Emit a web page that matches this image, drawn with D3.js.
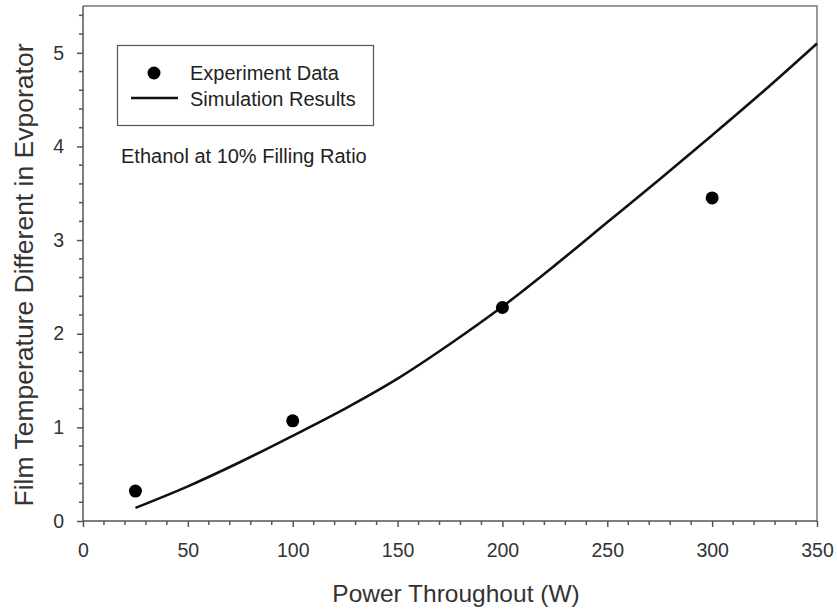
<!DOCTYPE html>
<html>
<head>
<meta charset="utf-8">
<script src="https://cdn.jsdelivr.net/npm/d3@7"></script>
<style>
  body { margin: 0; background: #fff; }
  text { font-family: "Liberation Sans", Arial, Helvetica, sans-serif; }
</style>
</head>
<body>
<svg id="chart" width="837" height="613"></svg>
<script>
// measured points
const expPower = [25, 100, 200, 300]
const expDelta = [0.32, 1.07, 2.28, 3.45]

// simulation curve
const simPower = [25, 50, 75, 100, 125, 150, 175, 200, 225, 250, 275, 300, 325, 350]
const simDelta = [0.14, 0.37, 0.63, 0.91, 1.20, 1.52, 1.89, 2.29, 2.73, 3.19, 3.65, 4.12, 4.60, 5.10]

const xTicks = [0, 50, 100, 150, 200, 250, 300, 350]
const yTicks = [0, 1, 2, 3, 4, 5]

const margin = { top: 6, right: 20, bottom: 92, left: 83 }
const width = 837, height = 613
const axisColor = "#555"

const svg = d3.select("#chart")

const x = d3.scaleLinear().domain([0, 350]).range([margin.left, width - margin.right])
const y = d3.scaleLinear().domain([0, 5.5]).range([height - margin.bottom, margin.top])

// frame (top and right)
svg.append("path")
	.attr("d", `M${x(0)},${y(5.5)} H${x(350)} V${y(0)}`)
	.style("fill", "none")
	.style("stroke", "#777")
	.style("stroke-width", 1.5)

// minor ticks
const xMinor = d3.range(0, 351, 10).filter(v => v % 50 != 0)
const yMinor = d3.range(0, 5.51, 0.2).filter(v => Math.abs(v - Math.round(v)) > 0.01)

const xAxis = svg.append("g")
	.attr("transform", `translate(0,${y(0)})`)
	.call(d3.axisBottom(x).tickValues(xTicks).tickSize(6).tickPadding(16).tickFormat(d3.format("d")))
xAxis.append("g").selectAll("line")
	.data(xMinor)
	.enter().append("line")
	.attr("class", "minor")
	.attr("x1", d => x(d)).attr("x2", d => x(d))
	.attr("y1", 0).attr("y2", 4)

const yAxis = svg.append("g")
	.attr("transform", `translate(${x(0)},0)`)
	.call(d3.axisLeft(y).tickValues(yTicks).tickSize(6).tickPadding(13).tickFormat(d3.format("d")))
yAxis.append("g").selectAll("line")
	.data(yMinor)
	.enter().append("line")
	.attr("class", "minor")
	.attr("y1", d => y(d)).attr("y2", d => y(d))
	.attr("x1", 0).attr("x2", -4)

// axis lines span the full frame
yAxis.select(".domain").attr("d", `M0,${y(0)}V${y(5.5)}`)
xAxis.select(".domain").attr("d", `M${x(0)},0H${x(350)}`)

svg.selectAll(".domain, .tick line, line.minor")
	.style("stroke", axisColor)
	.style("stroke-width", 1.5)
svg.selectAll(".tick text")
	.style("font-size", "19.5px")
	.style("fill", "#333")

// axis titles
svg.append("text")
	.attr("x", 456)
	.attr("y", 602)
	.attr("text-anchor", "middle")
	.text("Power Throughout (W)")
	.style("font-size", "24.5px")
	.style("fill", "#333")

svg.append("text")
	.attr("transform", `translate(33,275) rotate(-90)`)
	.attr("text-anchor", "middle")
	.text("Film Temperature Different in Evporator")
	.style("font-size", "26.5px")
	.style("fill", "#333")

// simulation line
const line = d3.line()
	.x(d => x(d[0]))
	.y(d => y(d[1]))
	.curve(d3.curveMonotoneX)

svg.append("path")
	.datum(d3.zip(simPower, simDelta))
	.attr("d", line)
	.style("fill", "none")
	.style("stroke", "#111")
	.style("stroke-width", 2.6)

// experiment points
svg.selectAll(".pt")
	.data(d3.zip(expPower, expDelta))
	.enter().append("circle")
	.attr("class", "pt")
	.attr("cx", d => x(d[0]))
	.attr("cy", d => y(d[1]))
	.attr("r", 6.5)
	.style("fill", "#000")

// legend
const legend = svg.append("g")
legend.append("rect")
	.attr("x", 117.5).attr("y", 45.5)
	.attr("width", 256).attr("height", 80)
	.style("fill", "#fff")
	.style("stroke", "#555")
	.style("stroke-width", 1.2)
legend.append("circle")
	.attr("cx", 154).attr("cy", 73).attr("r", 6.5)
	.style("fill", "#000")
legend.append("line")
	.attr("x1", 131).attr("x2", 178)
	.attr("y1", 98).attr("y2", 98)
	.style("stroke", "#111")
	.style("stroke-width", 2.6)
legend.append("text")
	.attr("x", 190).attr("y", 80)
	.text("Experiment Data")
	.style("font-size", "20px")
	.style("fill", "#222")
legend.append("text")
	.attr("x", 190).attr("y", 106)
	.text("Simulation Results")
	.style("font-size", "20px")
	.style("fill", "#222")

svg.append("text")
	.attr("x", 121).attr("y", 163)
	.text("Ethanol at 10% Filling Ratio")
	.style("font-size", "20px")
	.style("fill", "#222")
</script>
</body>
</html>
